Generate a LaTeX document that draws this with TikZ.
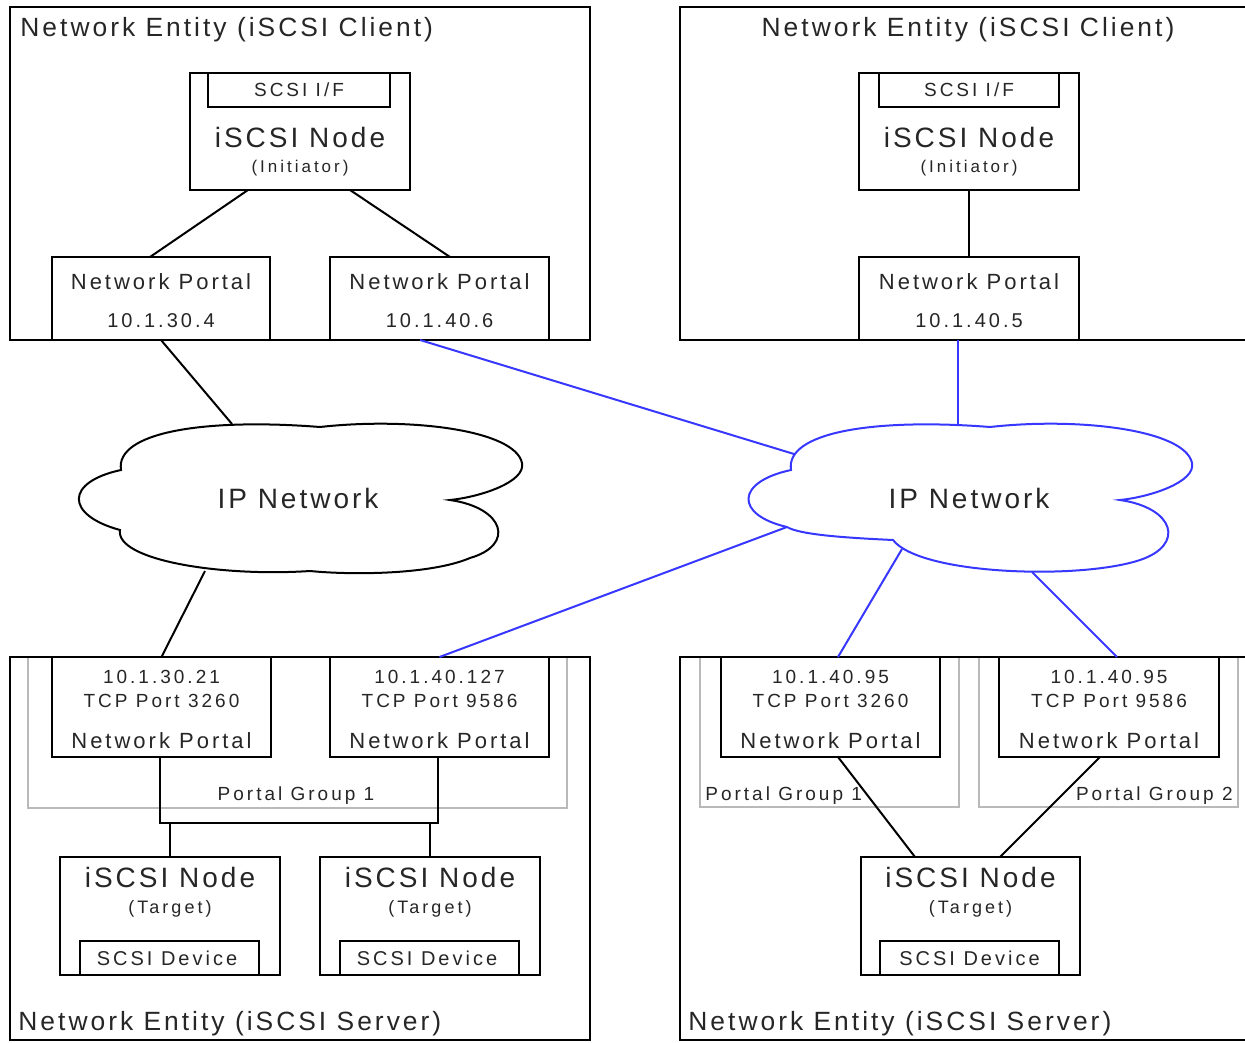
\documentclass[tikz,border=0pt]{standalone}
\usepackage{fontspec}
\setmainfont{Liberation Sans}
\usetikzlibrary{calc}
\definecolor{netblue}{RGB}{55,55,255}
\definecolor{pggray}{RGB}{185,185,185}
\begin{document}
\begin{tikzpicture}[x=0.5pt,y=-0.5pt,
  box/.style={draw=black, line width=1pt, inner sep=0pt, outer sep=0pt},
  wbox/.style={box, fill=white},
  grp/.style={draw=pggray, line width=0.8pt, inner sep=0pt, outer sep=0pt},
  lbl/.style={inner sep=0pt, text=black!85},
  f14/.style={lbl, font=\fontsize{14}{16}\selectfont\addfontfeature{LetterSpace=10.7}},
  f13/.style={lbl, font=\fontsize{13.2}{15}\selectfont\addfontfeature{LetterSpace=11.4}},
  f11/.style={lbl, font=\fontsize{11}{13}\selectfont\addfontfeature{LetterSpace=13.6}},
  f10/.style={lbl, font=\fontsize{10}{12}\selectfont\addfontfeature{LetterSpace=15}},
  f95/.style={lbl, font=\fontsize{9.5}{11}\selectfont\addfontfeature{LetterSpace=15.8}},
  f9/.style={lbl, font=\fontsize{9}{11}\selectfont\addfontfeature{LetterSpace=16.7}},
  f85/.style={lbl, font=\fontsize{8.5}{10}\selectfont\addfontfeature{LetterSpace=17.6}},
  conn/.style={line width=1pt, draw=black},
  bconn/.style={line width=1pt, draw=netblue}]
\useasboundingbox (0,0) rectangle (1245,1042);

% ---------- portal groups (gray) ----------
\node[grp, minimum width=269.5pt, minimum height=75.5pt] (pg1) at (297.5,732.5) {};
\node[grp, minimum width=129.5pt, minimum height=75pt] (pg1b) at (829.5,732) {};
\node[grp, minimum width=129.5pt, minimum height=75pt] (pg2) at (1108.5,732) {};

% ---------- entities ----------
\node[box, minimum width=290pt, minimum height=166.5pt] (ent1) at (300,173.5) {};
\node[box, minimum width=290pt, minimum height=166.5pt] (ent2) at (970,173.5) {};
\node[box, minimum width=290pt, minimum height=191.5pt] (ent3) at (300,848.5) {};
\node[box, minimum width=290pt, minimum height=191.5pt] (ent4) at (970,848.5) {};

\node[f13, anchor=base west] (ent1t) at (20,37) {Network Entity (iSCSI Client)};
\node[f13, anchor=base] (ent2t) at (968,37) {Network Entity (iSCSI Client)};
\node[f13, anchor=base west] (ent3t) at (18,1030) {Network Entity (iSCSI Server)};
\node[f13, anchor=base west] (ent4t) at (688,1030) {Network Entity (iSCSI Server)};

% ---------- client left ----------
\node[wbox, minimum width=110pt, minimum height=58.5pt] (init1) at (300,131.5) {};
\node[wbox, minimum width=91pt, minimum height=17pt] (if1) at (299,90) {};
\node[f95, anchor=base] (if1t) at (299,97) {SCSI I/F};
\node[f14, anchor=base] (init1a) at (300,148) {iSCSI Node};
\node[f85, anchor=base] (init1b) at (300,173) {(Initiator)};

\node[wbox, minimum width=109pt, minimum height=41.5pt] (c1) at (161,298.5) {};
\node[f11, anchor=base] (c1a) at (161,290) {Network Portal};
\node[f10, anchor=base] (c1b) at (161,328) {10.1.30.4};
\node[wbox, minimum width=109.5pt, minimum height=41.5pt] (c2) at (439.5,298.5) {};
\node[f11, anchor=base] (c2a) at (439.5,290) {Network Portal};
\node[f10, anchor=base] (c2b) at (439.5,328) {10.1.40.6};

% ---------- client right ----------
\node[wbox, minimum width=110pt, minimum height=58.5pt] (init2) at (969,131.5) {};
\node[wbox, minimum width=90pt, minimum height=17pt] (if2) at (969,90) {};
\node[f95, anchor=base] (if2t) at (969,97) {SCSI I/F};
\node[f14, anchor=base] (init2a) at (969,148) {iSCSI Node};
\node[f85, anchor=base] (init2b) at (969,173) {(Initiator)};
\node[wbox, minimum width=110pt, minimum height=41.5pt] (c3) at (969,298.5) {};
\node[f11, anchor=base] (c3a) at (969,290) {Network Portal};
\node[f10, anchor=base] (c3b) at (969,328) {10.1.40.5};

% ---------- server left ----------
\node[wbox, minimum width=109.5pt, minimum height=50pt] (s1) at (161.5,707) {};
\node[f95, anchor=base] (s1a) at (161.5,683) {10.1.30.21};
\node[f95, anchor=base] (s1b) at (161.5,707) {TCP Port 3260};
\node[f11, anchor=base] (s1c) at (161.5,748) {Network Portal};
\node[wbox, minimum width=109.5pt, minimum height=50pt] (s2) at (439.5,707) {};
\node[f95, anchor=base] (s2a) at (439.5,683) {10.1.40.127};
\node[f95, anchor=base] (s2b) at (439.5,707) {TCP Port 9586};
\node[f11, anchor=base] (s2c) at (439.5,748) {Network Portal};
\node[f95, anchor=base] (pg1t) at (296,800) {Portal Group 1};

\node[wbox, minimum width=110pt, minimum height=59pt] (t1) at (170,916) {};
\node[f14, anchor=base] (t1a) at (170,887) {iSCSI Node};
\node[f9, anchor=base] (t1b) at (170,913) {(Target)};
\node[wbox, minimum width=89.5pt, minimum height=17pt] (d1) at (169.5,958) {};
\node[f10, anchor=base] (d1t) at (167,965) {SCSI Device};
\node[wbox, minimum width=110pt, minimum height=59pt] (t2) at (430,916) {};
\node[f14, anchor=base] (t2a) at (430,887) {iSCSI Node};
\node[f9, anchor=base] (t2b) at (430,913) {(Target)};
\node[wbox, minimum width=89.5pt, minimum height=17pt] (d2) at (429.5,958) {};
\node[f10, anchor=base] (d2t) at (427,965) {SCSI Device};

% ---------- server right ----------
\node[wbox, minimum width=109.5pt, minimum height=50pt] (s3) at (830.5,707) {};
\node[f95, anchor=base] (s3a) at (830.5,683) {10.1.40.95};
\node[f95, anchor=base] (s3b) at (830.5,707) {TCP Port 3260};
\node[f11, anchor=base] (s3c) at (830.5,748) {Network Portal};
\node[wbox, minimum width=110pt, minimum height=50pt] (s4) at (1109,707) {};
\node[f95, anchor=base] (s4a) at (1109,683) {10.1.40.95};
\node[f95, anchor=base] (s4b) at (1109,707) {TCP Port 9586};
\node[f11, anchor=base] (s4c) at (1109,748) {Network Portal};
\node[f95, anchor=base west] (pg1bt) at (705,800) {Portal Group 1};
\node[f95, anchor=base east] (pg2t) at (1233,800) {Portal Group 2};

\node[wbox, minimum width=109.5pt, minimum height=59pt] (t3) at (970.5,916) {};
\node[f14, anchor=base] (t3a) at (970.5,887) {iSCSI Node};
\node[f9, anchor=base] (t3b) at (970.5,913) {(Target)};
\node[wbox, minimum width=89.5pt, minimum height=17pt] (d3) at (969.5,958) {};
\node[f10, anchor=base] (d3t) at (969.5,965) {SCSI Device};

% ---------- cloud attachment points ----------
\coordinate (cl1t) at (232,424);
\coordinate (cl1b) at (205,571);
\coordinate (cl2a) at (794,454);
\coordinate (cl2t) at (958,424);
\coordinate (cl2c) at (787,527);
\coordinate (cl2d) at (902,549);
\coordinate (cl2e) at (1032,572);

% ---------- connectors ----------
\draw[conn] ($(init1.south)+(-52,0)$) -- ($(c1.north)+(-11,0)$);
\draw[conn] ($(init1.south)+(50,0)$) -- ($(c2.north)+(10.5,0)$);
\draw[conn] (init2.south) -- (c3.north);
\draw[conn] (c1.south) -- (cl1t);
\draw[conn] (cl1b) -- (s1.north);
\draw[bconn] ($(c2.south)+(-19.5,0)$) -- (cl2a);
\draw[bconn] ($(c3.south)+(-11,0)$) -- (cl2t);
\draw[bconn] (cl2c) -- (s2.north);
\draw[bconn] (cl2d) -- ($(s3.north)+(7.5,0)$);
\draw[bconn] (cl2e) -- ($(s4.north)+(8,0)$);
\draw[conn] ($(s1.south)+(-1.5,0)$) -- ++(0,66) -| ($(s2.south)+(-1.5,0)$);
\draw[conn] (t1.north) -- ++(0,-34);
\draw[conn] (t2.north) -- ++(0,-34);
\draw[conn] ($(s3.south)+(7.5,0)$) -- ($(t3.north)+(-55.5,0)$);
\draw[conn] ($(s4.south)+(-9,0)$) -- ($(t3.north)+(29.5,0)$);

% ---------- clouds ----------
\draw[line width=1pt, black, fill=white]
  (121,470) .. controls (115,432) and (205,418) .. (320,427)
  .. controls (410,417) and (515,430) .. (522,463)
  .. controls (526,482) and (480,497) .. (450,500)
  .. controls (505,508) and (515,545) .. (470,558)
  .. controls (430,575) and (350,575) .. (310,571)
  .. controls (220,577) and (115,560) .. (120,530)
  .. controls (65,515) and (65,482) .. (121,470) -- cycle;
\node[f14, anchor=base] (ipn1) at (298,508) {IP Network};

\draw[line width=1pt, netblue, fill=white]
  (791,470) .. controls (785,432) and (875,418) .. (990,427)
  .. controls (1080,417) and (1185,430) .. (1192,463)
  .. controls (1196,482) and (1150,497) .. (1120,500)
  .. controls (1175,508) and (1185,545) .. (1140,560)
  .. controls (1080,580) and (920,575) .. (893,540)
  .. controls (850,538) and (800,535) .. (787,527)
  .. controls (735,515) and (735,482) .. (791,470) -- cycle;
\node[f14, anchor=base] (ipn2) at (969,508) {IP Network};
\end{tikzpicture}
\end{document}
